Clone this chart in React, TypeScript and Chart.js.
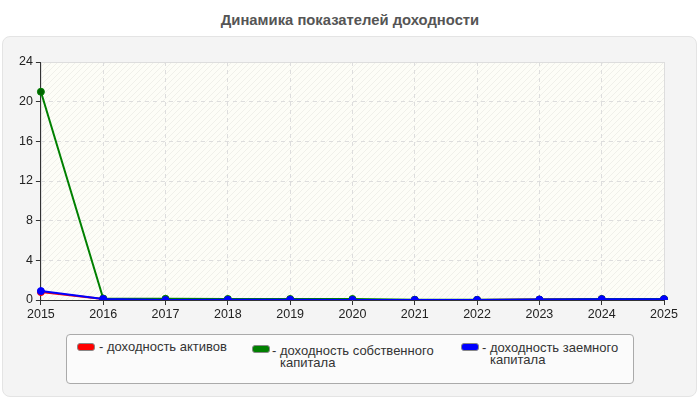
import React, { useEffect, useRef } from "react";
import { Chart, registerables } from "chart.js";

Chart.register(...registerables);

const titleText = "Динамика показателей доходности";
const years = ["2015", "2016", "2017", "2018", "2019", "2020", "2021", "2022", "2023", "2024", "2025"];
const assetsLabel = ["доходность активов"];
const equityLabel = ["доходность собственного", "капитала"];
const debtLabel = ["доходность заемного", "капитала"];
const assetsReturn = [0.8, 0.1, 0.02, 0.02, 0.03, 0.01, 0.0, 0.0, 0.04, 0.08, 0.08];
const equityReturn = [21, 0.15, 0.12, 0.1, 0.1, 0.1, 0.03, 0.02, 0.05, 0.1, 0.1];
const debtReturn = [0.9, 0.1, 0.0, 0.02, 0.03, 0.0, 0.0, 0.0, 0.04, 0.08, 0.08];

const FONT = "'Liberation Sans', Arial, sans-serif";

const plotBg = {
  id: "plotBg",
  beforeDraw(chart: any) {
    const { ctx, chartArea: a } = chart;
    if (!a) return;
    ctx.save();
    ctx.fillStyle = "#fdfdf7";
    ctx.fillRect(a.left, a.top, a.right - a.left, a.bottom - a.top);
    const pc = document.createElement("canvas");
    pc.width = 6;
    pc.height = 6;
    const p = pc.getContext("2d")!;
    p.strokeStyle = "rgba(0,0,0,0.05)";
    p.lineWidth = 1;
    p.beginPath();
    p.moveTo(-1, 7);
    p.lineTo(7, -1);
    p.stroke();
    const pat = ctx.createPattern(pc, "repeat");
    if (pat) {
      ctx.fillStyle = pat;
      ctx.fillRect(a.left, a.top, a.right - a.left, a.bottom - a.top);
    }
    ctx.strokeStyle = "#dddddd";
    ctx.lineWidth = 1;
    ctx.strokeRect(a.left + 0.5, a.top + 0.5, a.right - a.left, a.bottom - a.top);
    ctx.restore();
  },
};

export default function App() {
  const ref = useRef<HTMLCanvasElement | null>(null);
  useEffect(() => {
    if (!ref.current) return;
    const chart = new Chart(ref.current, {
      type: "line",
      data: {
        labels: years,
        datasets: [
          {
            label: assetsLabel.join(" "),
            data: assetsReturn,
            borderColor: "#ff0000",
            backgroundColor: "#ff0000",
            order: 3,
          },
          {
            label: equityLabel.join(" "),
            data: equityReturn,
            borderColor: "#008000",
            backgroundColor: "#006400",
            order: 2,
          },
          {
            label: debtLabel.join(" "),
            data: debtReturn,
            borderColor: "#0000ff",
            backgroundColor: "#0000ff",
            order: 1,
          },
        ],
      },
      options: {
        animation: false,
        responsive: false,
        devicePixelRatio: 1,
        elements: {
          line: { borderWidth: 2, tension: 0 },
          point: { radius: 3.5, borderWidth: 1 },
        },
        layout: { padding: { left: 16, right: 36, top: 62, bottom: 76 } },
        plugins: {
          legend: { display: false },
          title: { display: false },
          tooltip: { enabled: false },
        },
        scales: {
          x: {
            offset: false,
            grid: { color: "#dddddd", tickColor: "#333333", tickLength: 5, drawTicks: true },
            border: { color: "#333333", dash: [4, 4] },
            ticks: { color: "#222222", font: { family: FONT, size: 12.5 }, padding: 2, maxRotation: 0, autoSkip: false },
          },
          y: {
            min: 0,
            max: 24,
            grid: { color: "#dddddd", tickColor: "#333333", tickLength: 5 },
            border: { color: "#333333", dash: [4, 4] },
            ticks: { stepSize: 4, color: "#222222", font: { family: FONT, size: 12.5 }, padding: 3 },
          },
        },
      },
      plugins: [plotBg],
    });
    return () => chart.destroy();
  }, []);

  const swatch = (color: string, left: number, top: number) => (
    <div
      style={{
        position: "absolute",
        left,
        top,
        width: 18,
        height: 8,
        background: color,
        border: "1px solid #888",
        borderRadius: 3,
        boxSizing: "border-box",
      }}
    />
  );
  const legendText = (lines: string[], left: number, top: number) => (
    <div
      style={{
        position: "absolute",
        left,
        top,
        fontFamily: FONT,
        fontSize: 13,
        lineHeight: "12px",
        color: "#333",
        whiteSpace: "nowrap",
      }}
    >
      {lines.map((l, i) => (
        <div key={i} style={{ paddingLeft: i === 0 ? 0 : 8 }}>
          {i === 0 ? "- " + l : l}
        </div>
      ))}
    </div>
  );

  return (
    <div style={{ position: "absolute", left: 0, top: 0, width: 700, height: 400, background: "#fff", overflow: "hidden" }}>
      <div
        style={{
          position: "absolute",
          left: 0,
          top: 11,
          width: 700,
          textAlign: "center",
          fontFamily: FONT,
          fontWeight: "bold",
          fontSize: 14.8,
          lineHeight: "18px",
          color: "#555",
        }}
      >
        {titleText}
      </div>
      <div
        style={{
          position: "absolute",
          left: 2,
          top: 36,
          width: 695,
          height: 361,
          background: "#f4f4f4",
          border: "1px solid #e4e4e4",
          borderRadius: 8,
          boxSizing: "border-box",
        }}
      />
      <canvas ref={ref} width={700} height={400} style={{ position: "absolute", left: 0, top: 0, width: 700, height: 400 }} />
      <div
        style={{
          position: "absolute",
          left: 66,
          top: 334,
          width: 568,
          height: 50,
          background: "#fbfbfb",
          border: "1px solid #aaa",
          borderRadius: 4,
          boxSizing: "border-box",
        }}
      />
      {swatch("#ff0000", 77, 343)}
      {legendText(assetsLabel, 99, 341)}
      {swatch("#008000", 252, 345)}
      {legendText(equityLabel, 272, 345)}
      {swatch("#0000ff", 461, 343)}
      {legendText(debtLabel, 482, 342)}
    </div>
  );
}
